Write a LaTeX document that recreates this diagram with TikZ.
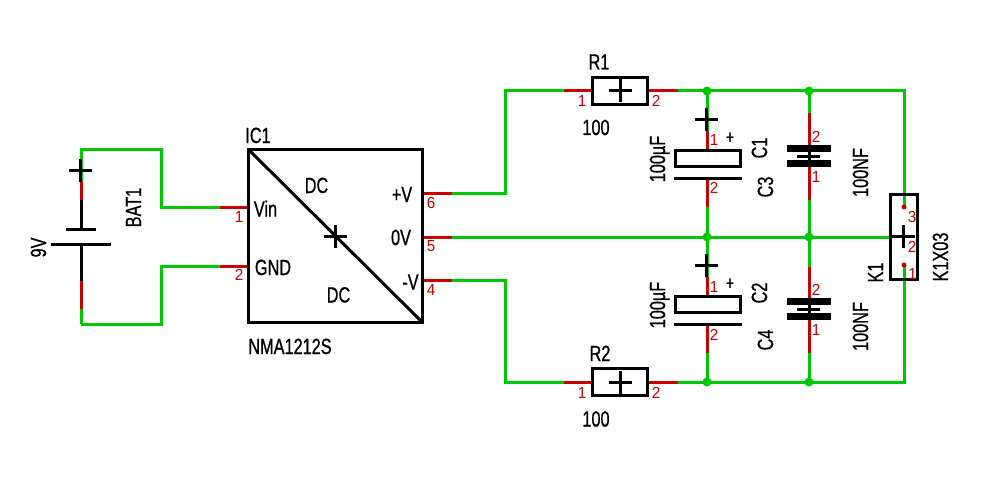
\documentclass[tikz,border=0pt]{standalone}
\usepackage{fontspec}
\setmainfont[FakeStretch=0.74,FakeBold=0.8]{Liberation Sans}
\newfontfamily\padfont[FakeStretch=0.95]{Liberation Sans}
\usetikzlibrary{positioning, arrows.meta, calc, backgrounds}
\definecolor{netgreen}{RGB}{0,200,0}
\definecolor{padred}{RGB}{200,0,0}
\tikzset{
  wire/.style={draw=netgreen, line width=3pt, line join=miter},
  padline/.style={draw=padred, line width=3pt},
  part/.style={draw=black, line width=3pt},
  fatplate/.style={draw=black, line width=7pt},
  box/.style={part, rectangle, inner sep=0pt, outer sep=0pt},
  junction/.style={circle, fill=netgreen, inner sep=0pt, minimum size=9pt},
  paddot/.style={circle, fill=padred, inner sep=0pt, minimum size=5pt},
  label/.style={inner sep=0pt, font=\fontsize{22}{22}\selectfont, text height=16pt, text depth=0pt},
  side/.style={label, rotate=90},
  padnum/.style={inner sep=0pt, text=padred, font=\padfont\fontsize{16}{16}\selectfont, text height=11.5pt, text depth=0pt},
  polarity/.style={inner sep=0pt, font=\fontsize{19}{19}\selectfont, text height=11pt, text depth=0pt},
  origin/.pic={\draw[part] (-11.5,0) -- (11.5,0) (0,-11.5) -- (0,11.5);}
}

\begin{document}
\begin{tikzpicture}[x=1pt, y=-1pt]
    \useasboundingbox (0,0) rectangle (995,492);

    % boxes
    \node[box, minimum width=174pt, minimum height=173pt] (ic) at (335.5,236) {};
    \node[box, minimum width=55pt, minimum height=27pt] (r1) at (620,91) {};
    \node[box, minimum width=55pt, minimum height=27pt] (r2) at (620,382) {};
    \node[box, minimum width=65pt, minimum height=16pt] (c1) at (708,158.5) {};
    \node[box, minimum width=65pt, minimum height=16pt] (c2) at (708,304.5) {};
    \node[box, minimum width=27pt, minimum height=85pt] (k1) at (904,237) {};
    \draw[part] (ic.north west) -- (ic.south east);

    % fixed points of the nets
    \coordinate (batplus) at (81,182);
    \coordinate (batplate) at (81,229);
    \coordinate (batminus) at (81,244);
    \coordinate (batlow) at (81,281);
    \coordinate (battop) at (81,309);
    \coordinate (batbot) at (81,324);
    \coordinate (in1) at (220,207);
    \coordinate (in2) at (220,266);
    \coordinate (out6) at (452,193);
    \coordinate (out5) at (452,237);
    \coordinate (out4) at (452,280);
    \coordinate (r1a) at (564,91);
    \coordinate (r1b) at (678,91);
    \coordinate (r2a) at (564,382);
    \coordinate (r2b) at (678,382);
    \coordinate (top1) at (707,91);
    \coordinate (top3) at (809,91);
    \coordinate (topk) at (904,91);
    \coordinate (mid1) at (707,237);
    \coordinate (mid3) at (809,237);
    \coordinate (midk) at (892,237);
    \coordinate (bot1) at (707,382);
    \coordinate (bot3) at (809,382);
    \coordinate (botk) at (904,382);
    \coordinate (c1in) at (707,131);
    \coordinate (c1low) at (707,207);
    \coordinate (c1plate) at (707,178);
    \coordinate (c2in) at (707,277);
    \coordinate (c2low) at (707,353);
    \coordinate (c2plate) at (707,324);
    \coordinate (c3a) at (809,113);
    \coordinate (c3b) at (809,145);
    \coordinate (c3c) at (809,167);
    \coordinate (c3d) at (809,200);
    \coordinate (c4a) at (809,267);
    \coordinate (c4b) at (809,298);
    \coordinate (c4c) at (809,320);
    \coordinate (c4d) at (809,353);
    \coordinate (k3) at (904,205);
    \coordinate (k1p) at (904,267);

    \begin{scope}[on background layer]
    % green nets
    \draw[wire] (batplus) -- (81,149) -| (161,207) -- (in1);
    \draw[wire] (batbot) -- (battop);
    \draw[wire] (batbot) -| (161,266) -- (in2);
    \draw[wire] (out6) -| (505,91) -- (r1a);
    \draw[wire] (out4) -| (505,382) -- (r2a);
    \draw[wire] (out5) -- (midk);
    \draw[wire] (r1b) -- (topk) -- (k3);
    \draw[wire] (r2b) -- (botk) -- (k1p);
    \draw[wire] (top1) -- (c1in);
    \draw[wire] (c1low) -- (mid1) -- (c2in);
    \draw[wire] (c2low) -- (bot1);
    \draw[wire] (top3) -- (c3a);
    \draw[wire] (c3d) -- (mid3) -- (c4a);
    \draw[wire] (c4d) -- (bot3);

    % red pad stubs
    \draw[padline] (batplus) -- (81,200);
    \draw[padline] (batlow) -- (battop);
    \draw[padline] (in1) -- (in1 -| ic.west);
    \draw[padline] (in2) -- (in2 -| ic.west);
    \draw[padline] (out6) -- (out6 -| ic.east);
    \draw[padline] (out5) -- (out5 -| ic.east);
    \draw[padline] (out4) -- (out4 -| ic.east);
    \draw[padline] (r1a) -- (r1.west);
    \draw[padline] (r1b) -- (r1.east);
    \draw[padline] (r2a) -- (r2.west);
    \draw[padline] (r2b) -- (r2.east);
    \draw[padline] (c1in) -- (c1in |- c1.north);
    \draw[padline] (c1plate) -- (c1low);
    \draw[padline] (c2in) -- (c2in |- c2.north);
    \draw[padline] (c2plate) -- (c2low);
    \draw[padline] (c3a) -- (c3b);
    \draw[padline] (c3c) -- (c3d);
    \draw[padline] (c4a) -- (c4b);
    \draw[padline] (c4c) -- (c4d);
    \node[paddot] (k3dot) at (904,207) {};
    \node[paddot] (k1dot) at (904,265) {};

    % junctions
    \foreach \j in {top1, top3, mid1, mid3, bot1, bot3}
      \node[junction] (dot\j) at (\j) {};
    \end{scope}

    % battery
    \draw[part] (66,229) -- (96,229);
    \draw[part] (51,244) -- (111,244);
    \draw[part] (81,200) -- (batplate);
    \draw[part] (batminus) -- (batlow);

    % capacitor plates
    \draw[part] (674,178) -- (742,178);
    \draw[part] (674,324) -- (742,324);
    \draw[fatplate] (787,148.5) -- (831,148.5);
    \draw[fatplate] (787,163.5) -- (831,163.5);
    \draw[part] (797,156) -- (820,156);
    \draw[part] (c3b) -- (c3c);
    \draw[fatplate] (787,301.5) -- (831,301.5);
    \draw[fatplate] (787,316.5) -- (831,316.5);
    \draw[part] (797,309) -- (820,309);
    \draw[part] (c4b) -- (c4c);

    % origins
    \foreach \o in {(80.5,170), (335.5,236), (620,90.5), (620,382.5), (706.5,119.5), (706.5,265.5), (903.5,236)}
      \pic at \o {origin};

    % names and values
    \node[label] (icname) at (258,135) {IC1};
    \node[label] (icvalue) at (290,346) {NMA1212S};
    \node[label] (vin) at (265.5,208.5) {Vin};
    \node[label] (gnd) at (273,267) {GND};
    \node[label] (dcup) at (316.5,185) {DC};
    \node[label] (dcdown) at (338.5,294.5) {DC};
    \node[label] (plusv) at (402,194) {+V};
    \node[label] (zerov) at (401,237) {0V};
    \node[label] (minusv) at (410.5,281.5) {-V};
    \node[side] (batname) at (133,207.5) {BAT1};
    \node[side] (batvalue) at (38,247.5) {9V};
    \node[label] (r1name) at (599,61.5) {R1};
    \node[label] (r1value) at (596,127) {100};
    \node[label] (r2name) at (600,353) {R2};
    \node[label] (r2value) at (596,418.5) {100};
    \node[side] (c1value) at (657,159) {100µF};
    \node[side] (c2value) at (657,305) {100µF};
    \node[side] (c1name) at (759,148) {C1};
    \node[side] (c3name) at (765,187) {C3};
    \node[side] (c2name) at (759,293) {C2};
    \node[side] (c4name) at (765,340) {C4};
    \node[side] (c3value) at (860,172.5) {100NF};
    \node[side] (c4value) at (860,326.5) {100NF};
    \node[side] (k1name) at (875,272.5) {K1};
    \node[side] (k1value) at (940,257) {K1X03};
    \node[polarity] (c1plus) at (730,138) {+};
    \node[polarity] (c2plus) at (730,284) {+};

    % pad numbers
    \node[padnum] (icp1) at (239,217) {1};
    \node[padnum] (icp2) at (239,275) {2};
    \node[padnum] (icp6) at (431,203) {6};
    \node[padnum] (icp5) at (431,246) {5};
    \node[padnum] (icp4) at (431,290) {4};
    \node[padnum] (r1p1) at (582,101) {1};
    \node[padnum] (r1p2) at (656,101) {2};
    \node[padnum] (r2p1) at (582,393) {1};
    \node[padnum] (r2p2) at (656,393) {2};
    \node[padnum] (c1p1) at (714,140) {1};
    \node[padnum] (c1p2) at (714,188) {2};
    \node[padnum] (c2p1) at (714,287) {1};
    \node[padnum] (c2p2) at (714,335) {2};
    \node[padnum] (c3p2) at (816,137) {2};
    \node[padnum] (c3p1) at (816,177) {1};
    \node[padnum] (c4p2) at (816,290) {2};
    \node[padnum] (c4p1) at (816,330) {1};
    \node[padnum] (k1p3) at (912,217) {3};
    \node[padnum] (k1p2) at (912,247) {2};
    \node[padnum] (k1p1) at (912.5,274) {1};
\end{tikzpicture}
\end{document}
